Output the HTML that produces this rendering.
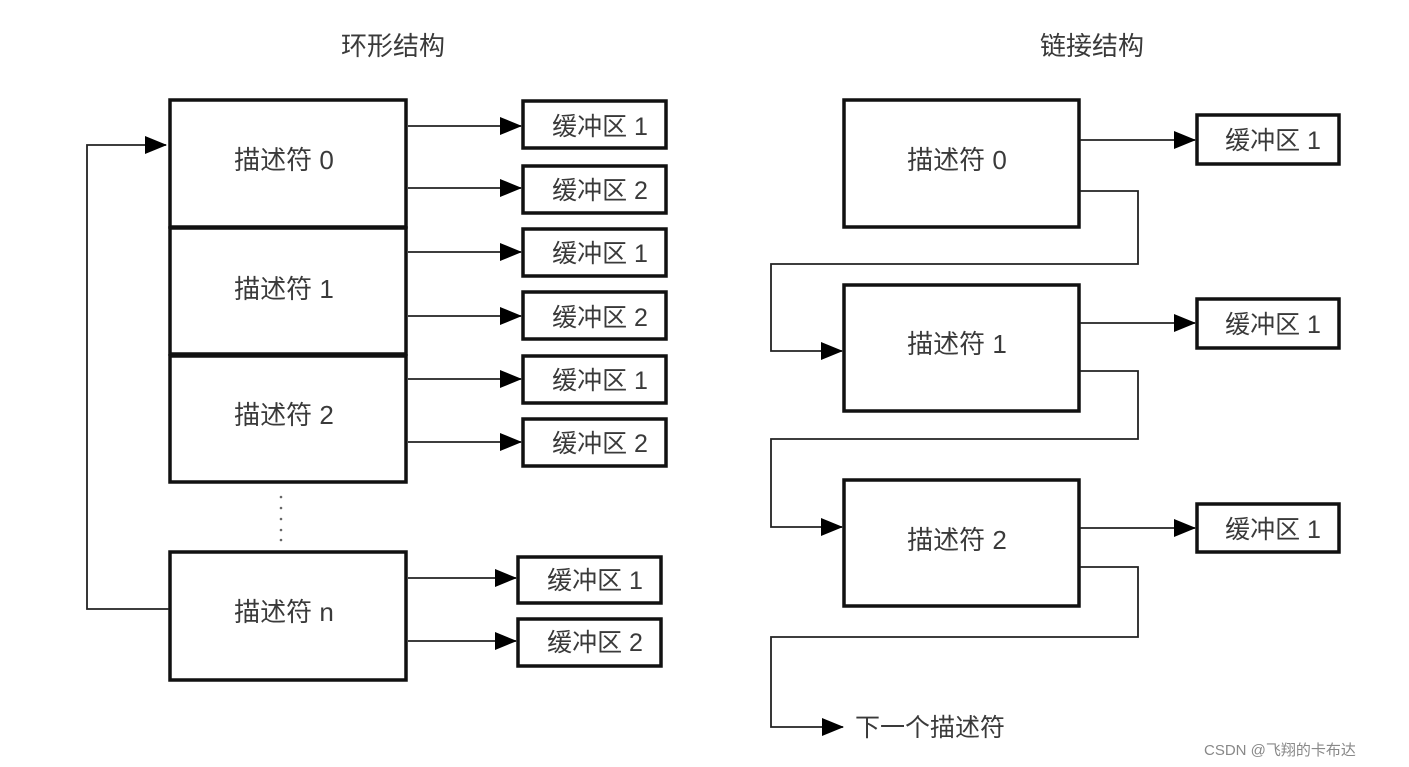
<!DOCTYPE html>
<html><head><meta charset="utf-8"><style>
html,body{margin:0;padding:0;background:#fff;width:1409px;height:767px;overflow:hidden}
svg text{font-family:"Liberation Sans","Noto Sans CJK SC",sans-serif;fill:#3a3a3a}
</style></head><body>
<svg width="1409" height="767" viewBox="0 0 1409 767" xmlns="http://www.w3.org/2000/svg">
<defs><marker id="a" markerWidth="10" markerHeight="10" refX="9" refY="5" orient="auto" markerUnits="userSpaceOnUse"><path d="M0,0 L10,5 L0,10 z" fill="#000"/></marker>
<marker id="b" markerWidth="22" markerHeight="18" refX="21" refY="9" orient="auto" markerUnits="userSpaceOnUse"><path d="M0,0 L22,9 L0,18 z" fill="#000"/></marker></defs>
<text x="393" y="55" font-size="26" text-anchor="middle" font-family="Noto Serif CJK SC,serif">环形结构</text>
<text x="1092" y="55" font-size="26" text-anchor="middle" font-family="Noto Serif CJK SC,serif">链接结构</text>
<g fill="none" stroke="#111" stroke-width="3.5">
<rect x="170" y="100" width="236" height="127"/><rect x="170" y="228" width="236" height="126"/><rect x="170" y="356" width="236" height="126"/><rect x="170" y="552" width="236" height="128"/>
<rect x="523" y="101" width="143" height="47"/><rect x="523" y="166" width="143" height="47"/><rect x="523" y="229" width="143" height="47"/><rect x="523" y="292" width="143" height="47"/><rect x="523" y="356" width="143" height="47"/><rect x="523" y="419" width="143" height="47"/>
<rect x="518" y="557" width="143" height="46"/><rect x="518" y="619" width="143" height="47"/>
<rect x="844" y="100" width="235" height="127"/><rect x="844" y="285" width="235" height="126"/><rect x="844" y="480" width="235" height="126"/>
<rect x="1197" y="115" width="142" height="49"/><rect x="1197" y="299" width="142" height="49"/><rect x="1197" y="504" width="142" height="48"/>
</g>
<g fill="none" stroke="#222" stroke-width="1.8" marker-end="url(#b)">
<line x1="408" y1="126" x2="521" y2="126"/><line x1="408" y1="188" x2="521" y2="188"/><line x1="408" y1="252" x2="521" y2="252"/><line x1="408" y1="316" x2="521" y2="316"/><line x1="408" y1="379" x2="521" y2="379"/><line x1="408" y1="442" x2="521" y2="442"/>
<line x1="408" y1="578" x2="516" y2="578"/><line x1="408" y1="641" x2="516" y2="641"/>
<polyline points="169,609 87,609 87,145 166,145"/>
<line x1="1080" y1="140" x2="1195" y2="140"/><line x1="1080" y1="323" x2="1195" y2="323"/><line x1="1080" y1="528" x2="1195" y2="528"/>
<polyline points="1080,191 1138,191 1138,264 771,264 771,351 842,351"/>
<polyline points="1080,371 1138,371 1138,439 771,439 771,527 842,527"/>
<polyline points="1080,567 1138,567 1138,637 771,637 771,727 843,727"/>
</g>
<g fill="#666"><circle cx="281" cy="497" r="1.3"/><circle cx="281" cy="508" r="1.3"/><circle cx="281" cy="519" r="1.3"/><circle cx="281" cy="530" r="1.3"/><circle cx="281" cy="540" r="1.3"/></g>
<g font-size="26" text-anchor="middle">
<text x="284" y="169">描述符 0</text><text x="284" y="298">描述符 1</text><text x="284" y="424">描述符 2</text><text x="284" y="621">描述符 n</text>
<text x="957" y="169">描述符 0</text><text x="957" y="353">描述符 1</text><text x="957" y="549">描述符 2</text>
</g>
<g font-size="25" text-anchor="middle">
<text x="600" y="135">缓冲区 1</text><text x="600" y="199">缓冲区 2</text><text x="600" y="262">缓冲区 1</text><text x="600" y="326">缓冲区 2</text><text x="600" y="389">缓冲区 1</text><text x="600" y="452">缓冲区 2</text>
<text x="595" y="589">缓冲区 1</text><text x="595" y="651">缓冲区 2</text>
<text x="1273" y="149">缓冲区 1</text><text x="1273" y="333">缓冲区 1</text><text x="1273" y="538">缓冲区 1</text>
</g>
<text x="855" y="736" font-size="25">下一个描述符</text>
<text x="1204" y="755" font-size="15" style="fill:#888">CSDN @飞翔的卡布达</text>
</svg>
</body></html>
